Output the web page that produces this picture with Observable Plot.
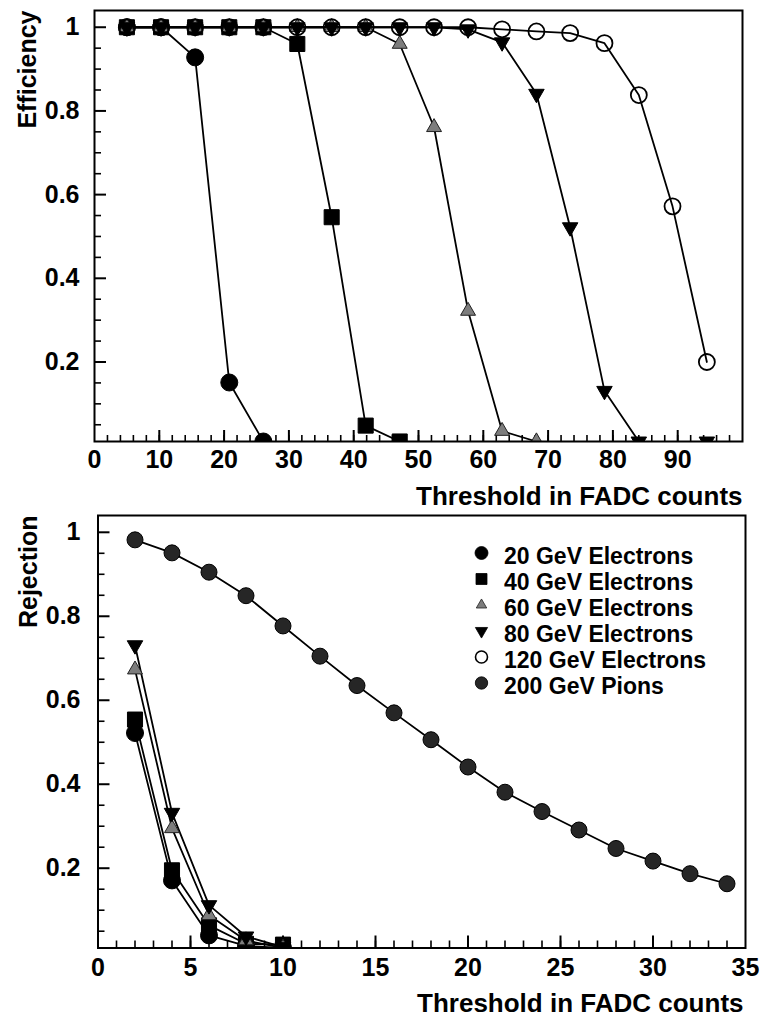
<!DOCTYPE html>
<html>
<head>
<meta charset="utf-8">
<script src="https://cdn.jsdelivr.net/npm/d3@7"></script>
<script src="https://cdn.jsdelivr.net/npm/@observablehq/plot@0.6"></script>
<style>
  html, body { margin: 0; padding: 0; background: #fff; }
  #chart { width: 763px; height: 1020px; background: #fff; }
  #chart svg { display: block; }
</style>
</head>
<body>
<div id="chart"></div>
<script>
// ---------------- DATA ----------------
// Top panel: efficiency vs threshold (FADC counts)
const effThreshold = [5, 10.27, 15.53, 20.8, 26.06, 31.3, 36.6, 41.85, 47.1, 52.4, 57.65, 62.9, 68.2, 73.4, 78.7, 84, 89.2, 94.5];
const eff20  = [1, 1, 0.928, 0.151, 0.01];
const eff40  = [1, 1, 1, 1, 1, 0.96, 0.546, 0.048, 0.01];
const eff60  = [1, 1, 1, 1, 1, 1, 1, 1, 0.96, 0.761, 0.322, 0.035, 0.01];
const eff80  = [1, 1, 1, 1, 1, 1, 1, 1, 1, 1, 0.995, 0.964, 0.841, 0.522, 0.131, 0.01, null, 0.01];
const eff120 = [1, 1, 1, 1, 1, 1, 1, 1, 1, 1, 1, 0.995, 0.99, 0.986, 0.962, 0.838, 0.572, 0.2];

// Bottom panel: rejection vs threshold
const rejThreshold = [2, 4, 6, 8, 10, 12, 14, 16, 18, 20, 22, 24, 26, 28, 30, 32, 34];
const rej20  = [0.522, 0.171, 0.04, 0.015, 0.01];
const rej40  = [0.554, 0.195, 0.064, 0.02, 0.018];
const rej60  = [0.673, 0.295, 0.088, 0.028, 0.01];
const rej80  = [0.731, 0.332, 0.112, 0.0375, 0.012];
const rejPions = [0.982, 0.951, 0.905, 0.849, 0.777, 0.705, 0.635, 0.570, 0.506, 0.441, 0.381, 0.335, 0.291, 0.247, 0.217, 0.187, 0.163];

const seriesNames = ["20 GeV Electrons", "40 GeV Electrons", "60 GeV Electrons", "80 GeV Electrons", "120 GeV Electrons", "200 GeV Pions"];

// Tick values
const topXLabels = [0, 10, 20, 30, 40, 50, 60, 70, 80, 90];
const topXMinor = d3.range(2, 100, 2);
const botXLabels = [0, 5, 10, 15, 20, 25, 30, 35];
const botXMinor = d3.range(1, 35, 1);
const yLabels = [0.2, 0.4, 0.6, 0.8, 1];
const yMinor = [0.05, 0.1, 0.15, 0.25, 0.3, 0.35, 0.45, 0.5, 0.55, 0.65, 0.7, 0.75, 0.85, 0.9, 0.95];

const yLabelTop = "Efficiency";
const yLabelBottom = "Rejection";
const xLabel = "Threshold in FADC counts";

// ---------------- STYLES ----------------
function triangle(dir) {
  return {
    draw(ctx, size) {
      const r = Math.sqrt(size / Math.PI);
      const a = 1.8 * r, h = a * Math.sqrt(3) / 2;
      ctx.moveTo(0, -dir * 2 * h / 3);
      ctx.lineTo(a / 2, dir * h / 3);
      ctx.lineTo(-a / 2, dir * h / 3);
      ctx.closePath();
    }
  };
}
const triUp = triangle(1), triDown = triangle(-1);

const markStyle = {
  "20 GeV Electrons":  {symbol: "circle", fill: "black", stroke: "black", sw: 1, r: 8.5, lr: 6.5},
  "40 GeV Electrons":  {symbol: "square", fill: "black", stroke: "black", sw: 1, r: 8.5, lr: 6.2},
  "60 GeV Electrons":  {symbol: triUp, fill: "#7d7d7d", stroke: "#222", sw: 1, r: 8.3, lr: 5.8},
  "80 GeV Electrons":  {symbol: triDown, fill: "black", stroke: "black", sw: 1, r: 8.6, lr: 6.8},
  "120 GeV Electrons": {symbol: "circle", fill: "none", stroke: "black", sw: 1.8, r: 8, lr: 6},
  "200 GeV Pions":     {symbol: "circle", fill: "#262626", stroke: "black", sw: 1, r: 8, lr: 6.2}
};

const FONT = "'Liberation Sans', Arial, Helvetica, sans-serif";
const W = 763;

function rowsOf(xs, list) {
  return list.flatMap(([s, vals]) => vals.map((v, i) => ({series: s, x: xs[i], y: v})));
}

const effRows = rowsOf(effThreshold, [
  [seriesNames[0], eff20], [seriesNames[1], eff40], [seriesNames[2], eff60],
  [seriesNames[3], eff80], [seriesNames[4], eff120]
]);
const rejRows = rowsOf(rejThreshold, [
  [seriesNames[0], rej20], [seriesNames[1], rej40], [seriesNames[2], rej60],
  [seriesNames[3], rej80], [seriesNames[5], rejPions]
]);

function seriesMarks(rows) {
  const names = [...new Set(rows.map(d => d.series))];
  const lines = Plot.line(rows, {x: "x", y: "y", z: "series", stroke: "black", strokeWidth: 1.8, clip: true});
  const dots = names.map(s => {
    const st = markStyle[s];
    return Plot.dot(rows.filter(d => d.series === s && d.y != null), {
      x: "x", y: "y", symbol: st.symbol, r: st.r, fill: st.fill, stroke: st.stroke, strokeWidth: st.sw, clip: true
    });
  });
  return [lines, ...dots];
}

function panel({height, ml, mr, mt, mb, xDomain, xTicks, xMinor, xMajorLen, xMinorLen, xPad, yPad, rows, yTitle, yTitleDx, xLabelDx, extra = []}) {
  const pw = W - ml - mr, ph = height - mt - mb;
  return Plot.plot({
    width: W, height,
    marginLeft: ml, marginRight: mr, marginTop: mt, marginBottom: mb,
    style: {fontFamily: FONT, fontSize: "25px", fontWeight: "bold", color: "black", background: "white", overflow: "visible"},
    x: {domain: xDomain, ticks: xTicks, tickSize: 0, tickPadding: xPad, label: null, tickFormat: d => String(d)},
    y: {domain: [0.01, 1.04], ticks: yLabels, tickSize: 0, tickPadding: yPad, label: null, tickFormat: d => d === 1 ? "1" : d.toFixed(1)},
    marks: [
      Plot.tickX(xMinor, {x: d => d, insetTop: ph - xMinorLen, stroke: "black", strokeWidth: 1.6}),
      Plot.tickX(xTicks.filter(d => d > xDomain[0] && d < xDomain[1]), {x: d => d, insetTop: ph - xMajorLen, stroke: "black", strokeWidth: 2}),
      Plot.tickY(yMinor, {y: d => d, insetRight: pw - 7, stroke: "black", strokeWidth: 1.6}),
      Plot.tickY(yLabels, {y: d => d, insetRight: pw - 12, stroke: "black", strokeWidth: 2}),
      ...seriesMarks(rows),
      Plot.frame({stroke: "black", strokeWidth: 2}),
      Plot.text([yTitle], {text: d => d, frameAnchor: "top-left", rotate: -90, textAnchor: "end", lineAnchor: "middle", dx: yTitleDx, fontSize: 25, fontWeight: "bold"}),
      Plot.text([xLabel], {text: d => d, frameAnchor: "bottom-right", textAnchor: "end", lineAnchor: "middle", dx: xLabelDx, dy: 55.5, fontSize: 26, fontWeight: "bold"}),
      ...extra
    ]
  });
}

// Legend (bottom panel), positioned relative to the frame's top-left corner
const legendFont = 23;
const legendRowStep = 26;
const legendMarks = [
  ...seriesNames.map((s, i) => {
    const st = markStyle[s];
    return Plot.dot([s], {frameAnchor: "top-left", dx: 383.5, dy: 37.5 + i * legendRowStep, symbol: st.symbol, r: st.lr, fill: st.fill, stroke: st.stroke, strokeWidth: st.sw === 1 ? 0.8 : 1.6});
  }),
  Plot.text([seriesNames.join("\n")], {
    text: d => d, frameAnchor: "top-left", dx: 406, dy: 30.5, textAnchor: "start", lineAnchor: "top",
    lineHeight: legendRowStep / legendFont, fontSize: legendFont, fontWeight: "bold"
  })
];

const topPlot = panel({
  height: 512, ml: 94, mr: 21, mt: 10, mb: 71,
  xDomain: [0, 100], xTicks: topXLabels, xMinor: topXMinor, xMajorLen: 11, xMinorLen: 6,
  xPad: 9, yPad: 15, rows: effRows, yTitle: yLabelTop, yTitleDx: -67, xLabelDx: 0
});

const bottomPlot = panel({
  height: 508, ml: 97.5, mr: 18, mt: 3, mb: 72.5,
  xDomain: [0, 35], xTicks: botXLabels, xMinor: botXMinor, xMajorLen: 12, xMinorLen: 7,
  xPad: 10, yPad: 17.5, rows: rejRows, yTitle: yLabelBottom, yTitleDx: -69.5, xLabelDx: -2,
  extra: legendMarks
});

const chart = document.getElementById("chart");
chart.append(topPlot, bottomPlot);
</script>
</body>
</html>
